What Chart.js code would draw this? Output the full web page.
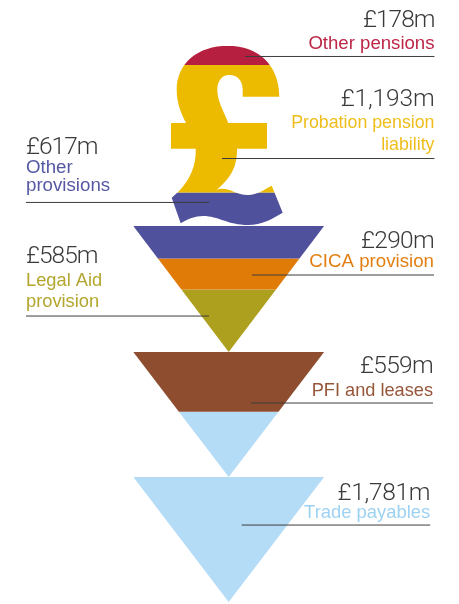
<!DOCTYPE html>
<html>
<head>
<meta charset="utf-8">
<title>Liabilities</title>
<script src="https://cdn.jsdelivr.net/npm/chart.js@4"></script>
<style>
  html, body { margin: 0; padding: 0; background: #fff; }
  canvas { display: block; }
</style>
</head>
<body>
<canvas id="grafico" width="459" height="604"></canvas>
<script>
// amounts in £m, stacked from the top of the pound sign to the last funnel tip
const categories = ['Other pensions', 'Probation pension liability', 'Other provisions', 'CICA provision', 'Legal Aid provision', 'PFI and leases', 'Trade payables'];
const amounts = [178, 1193, 617, 290, 585, 559, 1781];
const amountLabels = ['£178m', '£1,193m', '£617m', '£290m', '£585m', '£559m', '£1,781m'];
const bandColors = ['#B71F40', '#ECBB00', '#50519C', '#E07B08', '#ADA01E', '#8F4D2F', '#B4DCF7'];
const textColors = ['#BC2748', '#F0BE1C', '#5658A4', '#E37F12', '#B3A62E', '#96563A', '#9DD2F2'];

// where the funnels sit on the £m axis
const funnelTops = [1684, 2863, 4033];
const funnelTips = [2863, 4033, 5203];

// leader lines: height on the £m axis, ends on the x axis (0 = funnel centre)
const leaderAt = [98, 1053, 1464, 2143, 2527, 3341, 4483];
const leaderFrom = [16.3, -6.7, -202.7, 23.3, -202.7, 22.3, 13];
const leaderTo = [205.8, 205.8, -19.7, 205.3, -19.7, 204.3, 201.5];

// text placement relative to each leader line, in px above it
const textSide = ['right', 'right', 'left', 'right', 'left', 'right', 'right'];
const valueRise = [29, 52.5, 48.5, 27, 53.5, 30, 25];
const valueSpacing = [-1, -0.15, -1, -0.7, -1, -0.7, -0.3];
const nameLines = [['Other pensions'], ['Probation pension', 'liability'], ['Other', 'provisions'], ['CICA provision'], ['Legal Aid', 'provision'], ['PFI and leases'], ['Trade payables']];
const nameRises = [[7.2], [30.2, 8.5], [29.2, 11.5], [8.3], [30.3, 9], [7.3], [6.7]];
const nameSizes = [18.6, 17.8, 18.7, 18.7, 18.3, 18.2, 18.4];

const FUNNEL_HALF = 95.4;
const POUND_HALF = 70;

const poundOutline = new Path2D(
  'M228 45.7C198 45.7 176.7 63 176.7 90C176.7 103 181 113 186 123H171V148.7H195.7' +
  'C196.5 165 190 180 178.3 191.7L171.7 197.7L180.7 223.3' +
  'C188 219 195 216 203.3 216C218 216 228 225 248 225C262 225 272 219 282.7 212.7' +
  'L271.7 185.7C265 189 257 195 248 195C236 195 232 188.7 222 188.7C220 188.7 218 189 216.7 190' +
  'C228 180 237 170 237 150V148.7H267V123H228.3' +
  'C223 110 217.3 100 217.3 90C217.3 81 222 75 229 75C238 75 242.7 81 242.7 90V96.7H279.3' +
  'C279.3 65 258 45.7 228 45.7Z'
);

function halfWidthAt(value, f) {
  return FUNNEL_HALF * (funnelTips[f] - value) / (funnelTips[f] - funnelTops[f]);
}

// one filled dataset per piece of a band: a band can run across a funnel boundary
function bandPiece(label, from, to, color) {
  let f = -1;
  funnelTops.forEach((top, i) => { if (from >= top) f = i; });
  const topHalf = f < 0 ? POUND_HALF : halfWidthAt(from, f);
  const bottomHalf = f < 0 ? POUND_HALF : halfWidthAt(to, f);
  return {
    label: label,
    data: [
      { x: -topHalf, y: from },
      { x: -bottomHalf, y: to },
      { x: bottomHalf, y: to },
      { x: topHalf, y: from }
    ],
    showLine: true,
    pointRadius: 0,
    borderColor: 'transparent',
    borderWidth: 0,
    backgroundColor: color,
    fill: { value: from },
    order: f < 0 ? 3 : 2
  };
}

const datasets = [];
let acumulado = 0;
amounts.forEach((amount, i) => {
  const end = acumulado + amount;
  const cuts = funnelTops.filter(v => v > acumulado && v < end);
  const edges = [acumulado, ...cuts, end];
  for (let e = 0; e < edges.length - 1; e++) {
    datasets.push(bandPiece(categories[i], edges[e], edges[e + 1], bandColors[i]));
  }
  acumulado = end;
});

leaderAt.forEach((at, i) => {
  datasets.push({
    label: categories[i] + ' leader',
    data: [{ x: leaderFrom[i], y: at }, { x: leaderTo[i], y: at }],
    showLine: true,
    pointRadius: 0,
    borderColor: '#3c3c3c',
    borderWidth: 1,
    fill: false,
    order: 1
  });
});

// whites out everything around the pound sign once its bands are painted
const poundMask = {
  id: 'poundMask',
  afterDatasetDraw(chart, args) {
    if (args.index !== 0) return;
    const bottom = chart.scales.y.getPixelForValue(funnelTops[0]);
    const outside = new Path2D();
    outside.rect(150, 30, 160, bottom - 30);
    outside.addPath(poundOutline);
    const ctx = chart.ctx;
    ctx.save();
    ctx.fillStyle = '#fff';
    ctx.fill(outside, 'evenodd');
    ctx.restore();
  }
};

const callouts = {
  id: 'callouts',
  afterDatasetsDraw(chart) {
    const ctx = chart.ctx;
    const { x, y } = chart.scales;
    ctx.save();
    ctx.textBaseline = 'alphabetic';
    amountLabels.forEach((label, i) => {
      const lineY = y.getPixelForValue(leaderAt[i]);
      const side = textSide[i];
      const anchor = x.getPixelForValue(side === 'right' ? leaderTo[i] : leaderFrom[i]);
      ctx.textAlign = side;
      ctx.font = '300 24.5px Roboto';
      ctx.letterSpacing = valueSpacing[i] + 'px';
      ctx.fillStyle = '#3a3a3a';
      ctx.fillText(label, anchor, lineY - valueRise[i]);
      ctx.font = nameSizes[i] + 'px "Liberation Sans"';
      ctx.letterSpacing = '0px';
      ctx.fillStyle = textColors[i];
      nameLines[i].forEach((line, n) => ctx.fillText(line, anchor, lineY - nameRises[i][n]));
    });
    ctx.restore();
  }
};

new Chart(document.getElementById('grafico'), {
  type: 'scatter',
  data: { datasets: datasets },
  options: {
    responsive: false,
    animation: false,
    layout: { padding: { top: 46, bottom: 2, left: 0, right: 0 } },
    scales: {
      x: { type: 'linear', display: false, min: -228.7, max: 230.3 },
      y: { type: 'linear', display: false, reverse: true, min: 0, max: 5203 }
    },
    plugins: {
      legend: { display: false },
      tooltip: { enabled: false }
    }
  },
  plugins: [poundMask, callouts]
});
</script>
</body>
</html>
